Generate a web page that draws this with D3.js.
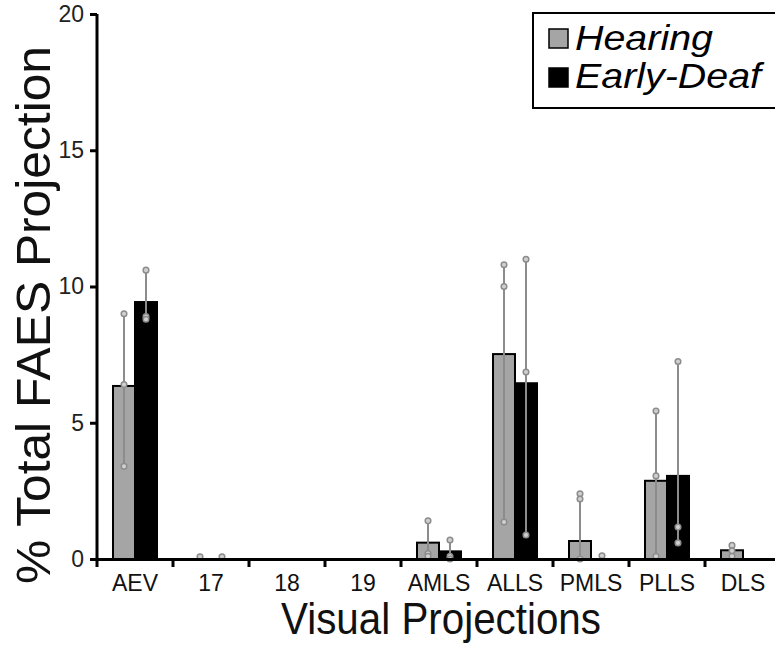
<!DOCTYPE html>
<html>
<head>
  <title>FAES projections</title>
  <style>
    body { margin: 0; background: #fff; }
    #chart { width: 775px; height: 650px; overflow: hidden; }
    text { font-family: "Liberation Sans", Arial, sans-serif; }
  </style>
  <script src="https://d3js.org/d3.v7.min.js"></script>
</head>
<body>
  <div id="chart"></div>

  <script>
    // values
    var categories = ["AEV", "17", "18", "19", "AMLS", "ALLS", "PMLS", "PLLS", "DLS"];
    var hearingMean = [6.35, 0.02, 0, 0, 0.6, 7.52, 0.66, 2.87, 0.32];
    var deafMean = [9.43, 0.02, 0, 0, 0.28, 6.45, 0.02, 3.05, 0];
    // individual animals (dots on the range lines)
    var hearingPoints = [[9.0, 6.4, 3.4], [0.08], [], [], [1.4, 0.2, 0.1], [10.8, 10.0, 1.36], [2.39, 2.2, 0], [5.43, 3.05, 0.1], [0.5, 0.3, 0.1]];
    var deafPoints = [[10.6, 8.9, 8.8], [0.08], [], [], [0.7, 0.1, 0], [11.0, 6.86, 0.88], [0.12], [7.25, 1.17, 0.59], []];
    var yTicks = [0, 5, 10, 15, 20];
    var seriesNames = ["Hearing", "Early-Deaf"];
    var seriesColors = ["#a5a5a5", "#000000"];

    var W = 775, H = 650;
    var margin = { top: 14, left: 97 };
    var plotBottom = 559;
    var barW = 22;

    var svg = d3.select("#chart").append("svg")
      .attr("width", W)
      .attr("height", H);

    var x = d3.scaleBand()
      .domain(categories)
      .range([margin.left, margin.left + 9 * 76])
      .padding(0);

    var y = d3.scaleLinear()
      .domain([0, 20])
      .range([plotBottom, margin.top]);

    var series = [
      { mean: hearingMean, pts: hearingPoints, off: -barW, fill: seriesColors[0] },
      { mean: deafMean, pts: deafPoints, off: 0, fill: seriesColors[1] }
    ];

    // bars
    series.forEach(function(s) {
      var rows = categories
        .map(function(c, i) { return { cat: c, v: s.mean[i] }; })
        .filter(function(r) { return r.v > 0.05; });
      svg.append("g").selectAll("rect")
        .data(rows)
        .enter().append("rect")
        .attr("x", function(d) { return x(d.cat) + x.bandwidth() / 2 + s.off; })
        .attr("y", function(d) { return y(d.v); })
        .attr("width", barW)
        .attr("height", function(d) { return plotBottom - y(d.v); })
        .attr("fill", s.fill)
        .attr("stroke", "#000")
        .attr("stroke-width", 2);
    });

    // range lines with dots
    series.forEach(function(s) {
      var g = svg.append("g");
      categories.forEach(function(c, i) {
        var p = s.pts[i];
        if (!p.length) return;
        var cx = x(c) + x.bandwidth() / 2 + s.off + barW / 2;
        if (p.length > 1) {
          g.append("line")
            .attr("x1", cx).attr("x2", cx)
            .attr("y1", y(d3.max(p)))
            .attr("y2", y(d3.min(p)))
            .attr("stroke", "#8c8c8c")
            .attr("stroke-width", 2);
        }
        g.selectAll("circle.c" + i)
          .data(p)
          .enter().append("circle")
          .attr("cx", cx)
          .attr("cy", function(v) { return y(v); })
          .attr("r", 2.8)
          .attr("fill", "#d0d0d0")
          .attr("stroke", "#8c8c8c")
          .attr("stroke-width", 1.5);
      });
    });

    // axes
    var yAxis = d3.axisLeft(y).tickValues(yTicks).tickSize(7).tickPadding(6);
    var gy = svg.append("g")
      .attr("transform", "translate(" + margin.left + ",0)")
      .call(yAxis);
    gy.select(".domain").attr("stroke-width", 3).attr("d", "M0," + (margin.top) + "V" + (plotBottom + 1));
    gy.selectAll(".tick line").attr("stroke-width", 3);
    gy.selectAll("text").attr("font-size", 23).attr("fill", "#222");

    var xAxis = d3.axisBottom(x).tickSize(0).tickPadding(16);
    var gx = svg.append("g")
      .attr("transform", "translate(0," + plotBottom + ")")
      .call(xAxis);
    gx.select(".domain").attr("stroke-width", 3);
    gx.selectAll("text").attr("font-size", 23).attr("fill", "#111");

    // boundary ticks between categories
    gx.selectAll("line.bound")
      .data(categories)
      .enter().append("line")
      .attr("class", "bound")
      .attr("x1", function(d) { return x(d); })
      .attr("x2", function(d) { return x(d); })
      .attr("y1", 0).attr("y2", 8)
      .attr("stroke", "#000")
      .attr("stroke-width", 3);

    // axis titles
    svg.append("text")
      .attr("x", 441).attr("y", 634)
      .attr("text-anchor", "middle")
      .attr("font-size", 44)
      .attr("textLength", 320)
      .attr("lengthAdjust", "spacingAndGlyphs")
      .attr("fill", "#111")
      .text("Visual Projections");

    svg.append("text")
      .attr("transform", "translate(50,315) rotate(-90)")
      .attr("text-anchor", "middle")
      .attr("font-size", 48)
      .attr("textLength", 538)
      .attr("lengthAdjust", "spacingAndGlyphs")
      .attr("fill", "#111")
      .text("% Total FAES Projection");

    // legend
    var legendWidths = [138, 186];
    var lg = svg.append("g");
    lg.append("rect")
      .attr("x", 533).attr("y", 13)
      .attr("width", 260).attr("height", 95)
      .attr("fill", "#fff")
      .attr("stroke", "#000")
      .attr("stroke-width", 2);
    seriesNames.forEach(function(n, i) {
      lg.append("rect")
        .attr("x", 549).attr("y", 29 + i * 39)
        .attr("width", 19).attr("height", 19)
        .attr("fill", seriesColors[i])
        .attr("stroke", "#000")
        .attr("stroke-width", 1.5);
      lg.append("text")
        .attr("x", 575).attr("y", 50 + i * 38)
        .attr("font-size", 35)
        .attr("font-style", "italic")
        .attr("textLength", legendWidths[i])
        .attr("lengthAdjust", "spacingAndGlyphs")
        .attr("fill", "#000")
        .text(n);
    });
  </script>
</body>
</html>
